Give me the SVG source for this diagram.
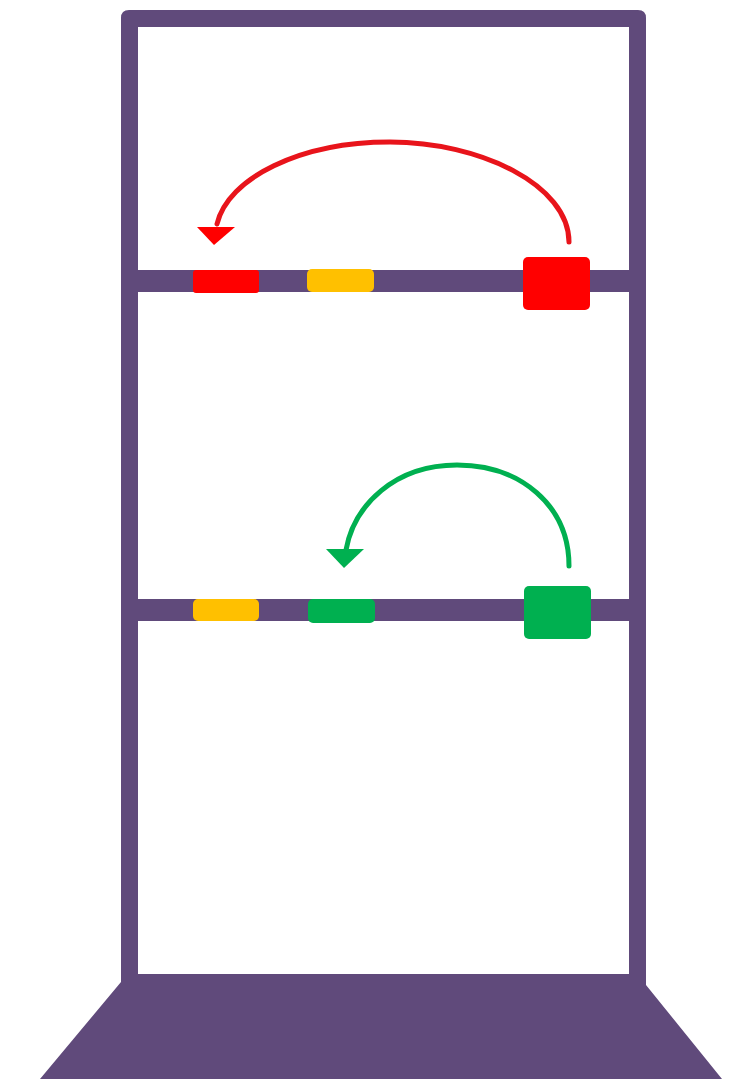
<svg xmlns="http://www.w3.org/2000/svg" width="737" height="1079" viewBox="0 0 737 1079">
<style>
.frame{fill:#604a7b}
.red{fill:#ff0000}
.yellow{fill:#ffc000}
.green{fill:#00b050}
.arc{fill:none;stroke-width:5;stroke-linecap:round}
</style>
<rect width="737" height="1079" fill="#ffffff"/>
<g id="rack">
<path class="frame" d="M129 10 H638 Q646 10 646 18 V985 L722 1079 H40 L121 982 V18 Q121 10 129 10 Z M138 27 V974 H629 V27 Z" fill-rule="evenodd"/>
<rect class="frame" x="138" y="270" width="491" height="22"/>
<rect class="frame" x="138" y="599" width="491" height="22"/>
</g>
<g id="shelf1">
<rect id="red-small" class="red" x="193" y="270" width="66" height="23" rx="3"/>
<rect id="yellow-1" class="yellow" x="307" y="269" width="67" height="23" rx="5"/>
<rect id="red-big" class="red" x="523" y="257" width="67" height="53" rx="5"/>
</g>
<g id="shelf2">
<rect id="yellow-2" class="yellow" x="193" y="599" width="66" height="22" rx="5"/>
<rect id="green-small" class="green" x="308" y="599" width="67" height="24" rx="5"/>
<rect id="green-big" class="green" x="524" y="586" width="67" height="53" rx="5"/>
</g>
<g id="connectors">
<path class="arc" stroke="#e8141b" d="M569 242 C569 185 480 142 390 142 C300 142 228 178 217 224"/>
<polygon class="red" points="197,227 235,227 214,245"/>
<path class="arc" stroke="#00b050" d="M569 566 C569 505 520 465 457 465 C395 465 354 505 346 550"/>
<polygon class="green" points="326,549 364,549 344,568"/>
</g>
</svg>
